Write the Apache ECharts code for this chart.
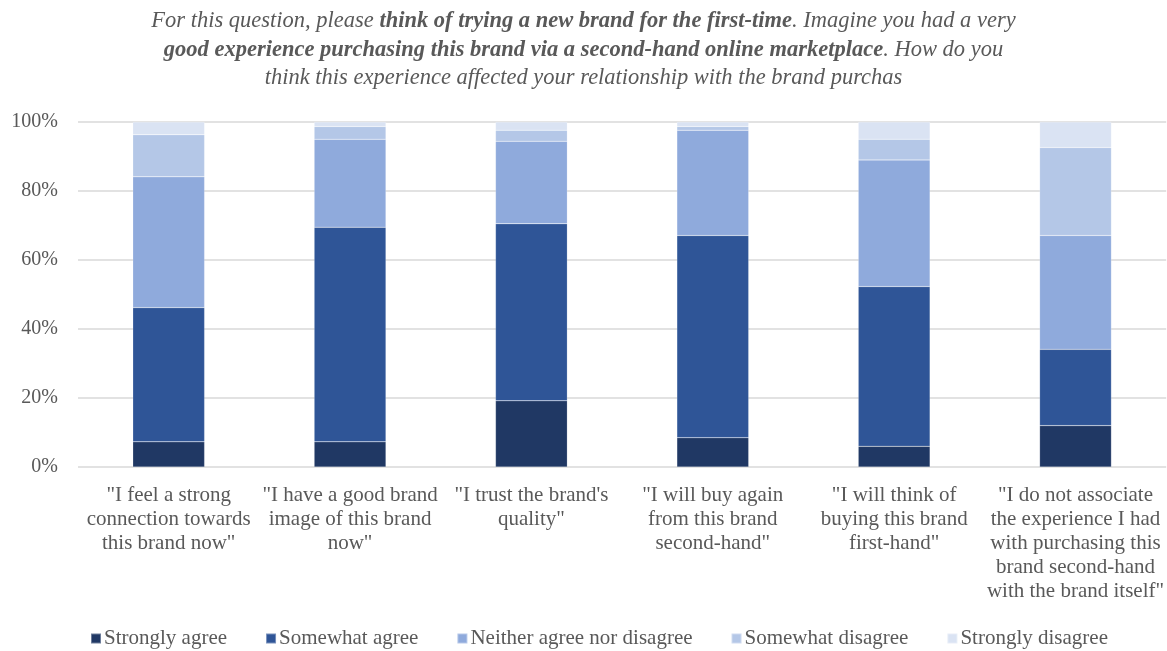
<!DOCTYPE html>
<html><head><meta charset="utf-8">
<script src="https://cdn.jsdelivr.net/npm/echarts@6/dist/echarts.min.js"></script>
<style>html,body{margin:0;padding:0;background:#fff}#c{width:1167px;height:651px}</style>
</head><body><div id="c"></div>
<script>
const categories = [
  '"I feel a strong\nconnection towards\nthis brand now"',
  '"I have a good brand\nimage of this brand\nnow"',
  '"I trust the brand\'s\nquality"',
  '"I will buy again\nfrom this brand\nsecond-hand"',
  '"I will think of\nbuying this brand\nfirst-hand"',
  '"I do not associate\nthe experience I had\nwith purchasing this\nbrand second-hand\nwith the brand itself"'
];
const seriesNames = ['Strongly agree','Somewhat agree','Neither agree nor disagree','Somewhat disagree','Strongly disagree'];
const stronglyAgree    = [7.3, 7.3, 19.2, 8.5, 6.0, 12.0];
const somewhatAgree    = [38.9, 62.2, 51.3, 58.6, 46.3, 22.1];
const neither          = [37.9, 25.5, 23.9, 30.5, 36.7, 33.0];
const somewhatDisagree = [12.2, 3.7, 3.2, 1.1, 6.0, 25.5];
const stronglyDisagree = [3.7, 1.3, 2.4, 1.3, 5.0, 7.4];
const yTicks = [0, 20, 40, 60, 80, 100];

const colors = ['#203864','#2F5597','#8FAADC','#B4C7E7','#DAE3F3'];
const values = [stronglyAgree, somewhatAgree, neither, somewhatDisagree, stronglyDisagree];
const serif = '"Liberation Serif", "DejaVu Serif", serif';
const grey = '#595959';

const chart = echarts.init(document.getElementById('c'));
chart.setOption({
  animation: false,
  title: {
    left: 'center', top: 2,
    text: 'For this question, please {b|think of trying a new brand for the first-time}. Imagine you had a very\n{b|good experience purchasing this brand via a second-hand online marketplace}. How do you\nthink this experience affected your relationship with the brand purchas',
    textStyle: {
      fontFamily: serif, fontStyle: 'italic', fontWeight: 'normal', fontSize: 22.5, color: grey, lineHeight: 28.5,
      rich: { b: { fontFamily: serif, fontStyle: 'italic', fontWeight: 'bold', fontSize: 22.5, color: grey, lineHeight: 28.5 } }
    }
  },
  grid: { left: 78, right: 0, top: 122, bottom: 184, containLabel: false },
  legend: {
    left: 85, top: 623, itemWidth: 10, itemHeight: 10, itemGap: 38,
    icon: 'rect',
    textStyle: { fontFamily: serif, fontSize: 21, color: grey, padding: [0,0,0,-2] },
    data: seriesNames
  },
  xAxis: {
    type: 'category', data: categories,
    axisLine: { show: false }, axisTick: { show: false },
    axisLabel: { fontFamily: serif, fontSize: 21, color: grey, lineHeight: 24, margin: 16, interval: 0 }
  },
  yAxis: {
    type: 'value', min: 0, max: 100, interval: 20,
    axisLabel: { fontFamily: serif, fontSize: 20, color: grey, margin: 20, formatter: v => v + '%' },
    splitLine: { lineStyle: { color: '#D9D9D9', width: 1.5 } },
    axisLine: { show: false }, axisTick: { show: false }
  },
  series: seriesNames.map((n, i) => ({
    name: n, type: 'bar', stack: 'all', barWidth: '39.6%',
    itemStyle: { color: colors[i], borderColor: 'rgba(255,255,255,0.35)', borderWidth: 0.5 },
    data: values[i]
  }))
});
</script></body></html>
